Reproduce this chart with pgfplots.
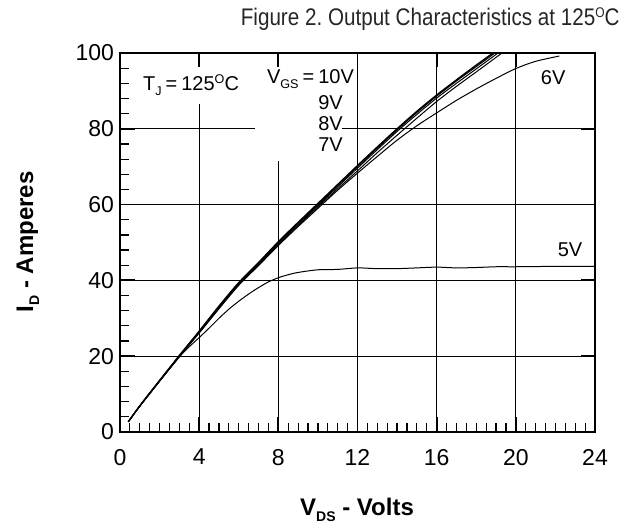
\documentclass[border=0pt]{standalone}
\usepackage{fontspec}
\setmainfont{Liberation Sans}
\usepackage{pgfplots}
\pgfplotsset{compat=1.18}
\newcommand\sbs[1]{\raisebox{-2.6pt}{\fontsize{6.3}{7}\selectfont #1}}
\newcommand\sbb[1]{\raisebox{-3pt}{\fontsize{7}{8}\selectfont\bfseries #1}}
\newcommand\sps{\raisebox{3.3pt}{\fontsize{6.3}{7}\selectfont O}}
\newcommand\spt{\raisebox{4.1pt}{\fontsize{7}{8}\selectfont O}}
\newcommand\eq{\hspace{0.2em}=\hspace{0.2em}}
\begin{document}
\begin{tikzpicture}
\path[use as bounding box] (0pt,0pt) rectangle (313.5pt,265pt);
\begin{axis}[
  at={(60pt,49pt)}, anchor=south west,
  scale only axis, width=237.5pt, height=189.5pt,
  xmin=0, xmax=24, ymin=0, ymax=100,
  xtick={0,4,...,24}, ytick={0,20,...,100},
  minor x tick num=7, minor y tick num=4,
  tick pos=left, tick align=inside,
  major tick length=7.5pt, minor tick length=4.5pt,
  major tick style={line width=0.9pt, black},
  minor tick style={line width=0.6pt, black},
  axis line style={line width=1pt},
  /pgf/number format/assume math mode=true,
  every tick label/.append style={font=\fontsize{11.5}{13}\selectfont},
  xticklabel style={yshift=-5pt},
  yticklabel style={xshift=0.5pt},
  clip=true,
]
% grid lines
\draw[line width=0.65pt] (axis cs:4,0) -- (axis cs:4,86.5);
\draw[line width=0.65pt] (axis cs:8,0) -- (axis cs:8,71.5);
\draw[line width=0.65pt] (axis cs:12,0) -- (axis cs:12,100);
\draw[line width=0.65pt] (axis cs:16,0) -- (axis cs:16,100);
\draw[line width=0.65pt] (axis cs:20,0) -- (axis cs:20,100);
\draw[line width=0.65pt] (axis cs:0,20) -- (axis cs:24,20);
\draw[line width=0.65pt] (axis cs:0,40) -- (axis cs:24,40);
\draw[line width=0.65pt] (axis cs:0,60) -- (axis cs:24,60);
\draw[line width=0.65pt] (axis cs:0,80) -- (axis cs:6.8,80);
\draw[line width=0.65pt] (axis cs:11.2,80) -- (axis cs:24,80);
% curves
% 10V
\addplot[black, line width=0.7pt, smooth] coordinates {
(0.42,2.7) (1,6.9) (2,13.6) (3,20.2) (4,26.6) (5,33.2) (6,39.4) (7,44.7) (8,50.2) (9,55.3) (10,60.3) (11,65.3) (12,70.3) (13,75.2) (14,80) (15,84.6) (16,88.9) (17,92.9) (18,96.8) (18.85,100)};
% 9V
\addplot[black, line width=0.5pt, smooth] coordinates {
(0.42,2.7) (1,6.9) (2,13.6) (3,20.1) (4,26.5) (5,33.1) (6,39.3) (7,44.6) (8,50.0) (9,55.1) (10,60.0) (11,65.0) (12,70.0) (13,74.9) (14,79.7) (15,84.3) (16,88.6) (17,92.6) (18,96.4) (18.95,100)};
% 8V
\addplot[black, line width=0.5pt, smooth] coordinates {
(0.42,2.7) (1,6.9) (2,13.5) (3,20.0) (4,26.4) (5,32.9) (6,39.1) (7,44.4) (8,49.8) (9,54.8) (10,59.7) (11,64.7) (12,69.6) (13,74.5) (14,79.3) (15,83.8) (16,88.1) (17,92.0) (18,95.8) (19.1,100)};
% 7V
\addplot[black, line width=0.5pt, smooth] coordinates {
(0.42,2.7) (1,6.8) (2,13.4) (3,19.9) (4,26.2) (5,32.7) (6,38.9) (7,44.1) (8,49.5) (9,54.5) (10,59.4) (11,64.2) (12,68.9) (13,73.7) (14,78.3) (15,82.8) (16,87.2) (17,91.2) (18,95.0) (19.3,100)};
% 6V
\addplot[black, line width=0.5pt, smooth] coordinates {
(0.42,2.7) (1,6.8) (2,13.4) (3,19.9) (4,26.1) (5,32.5) (6,38.7) (7,43.9) (8,49.2) (9,54.2) (10,59.0) (11,63.8) (12,68.3) (13,72.7) (14,77.0) (15,80.8) (16,84.2) (17,87.5) (18,90.5) (19,93.3) (20,95.9) (21,97.8) (22.2,99.2)};
% 5V
\addplot[black, line width=0.5pt, smooth] coordinates {
(0.42,2.7) (1,6.8) (2,13.4) (3,19.8) (3.5,22.5) (4,24.9) (4.5,27.4) (5,30.0) (5.5,32.4) (6,34.5) (6.5,36.4) (7,38.1) (7.5,39.6) (8,40.7) (8.5,41.5) (9,42.1) (10,42.8) (11,42.9) (12,43.3) (13,43.1) (14,43.1) (15,43.3) (16,43.5) (17,43.3) (18,43.4) (19,43.6) (20,43.6) (22,43.7) (24,43.7)};
% labels
\node[anchor=base west, font=\fontsize{10}{12}\selectfont, inner sep=0pt] at (axis cs:1.15,90.2) {T\sbs{J}\eq 125\sps C};
\node[anchor=base west, font=\fontsize{10}{12}\selectfont, inner sep=0pt] at (axis cs:7.41,92.0) {V\sbs{GS}\eq 10V};
\node[anchor=base west, font=\fontsize{10}{12}\selectfont, inner sep=0pt] at (axis cs:10.0,85.0) {9V};
\node[anchor=base west, font=\fontsize{10}{12}\selectfont, inner sep=0pt] at (axis cs:10.0,79.5) {8V};
\node[anchor=base west, font=\fontsize{10}{12}\selectfont, inner sep=0pt] at (axis cs:10.0,74.0) {7V};
\node[anchor=base west, font=\fontsize{10}{12}\selectfont, inner sep=0pt] at (axis cs:21.25,91.6) {6V};
\node[anchor=base west, font=\fontsize{10}{12}\selectfont, inner sep=0pt] at (axis cs:22.1,46.3) {5V};
\end{axis}
% overlay axis for top/right major ticks
\begin{axis}[
  at={(60pt,49pt)}, anchor=south west,
  scale only axis, width=237.5pt, height=189.5pt,
  xmin=0, xmax=24, ymin=0, ymax=100,
  xtick={4,8,...,20}, ytick={20,40,...,80},
  xticklabels={}, yticklabels={},
  tick pos=right, tick align=inside,
  major tick length=7pt,
  major tick style={line width=0.9pt, black},
  axis line style={line width=1pt},
]
\end{axis}
\node[anchor=base east, inner sep=0pt, font=\fontsize{12}{14}\selectfont, text=black!85] at (310pt,252pt) {\scalebox{0.86}[1]{Figure 2.\ Output Characteristics at 125\spt C}};
\node[anchor=base, font=\bfseries\fontsize{12}{14}\selectfont] at (178.5pt,7pt) {V\sbb{DS} - Volts};
\node[anchor=base, rotate=90, font=\bfseries\fontsize{12}{14}\selectfont] at (16.5pt,144pt) {I\sbb{D} - Amperes};
\end{tikzpicture}
\end{document}
